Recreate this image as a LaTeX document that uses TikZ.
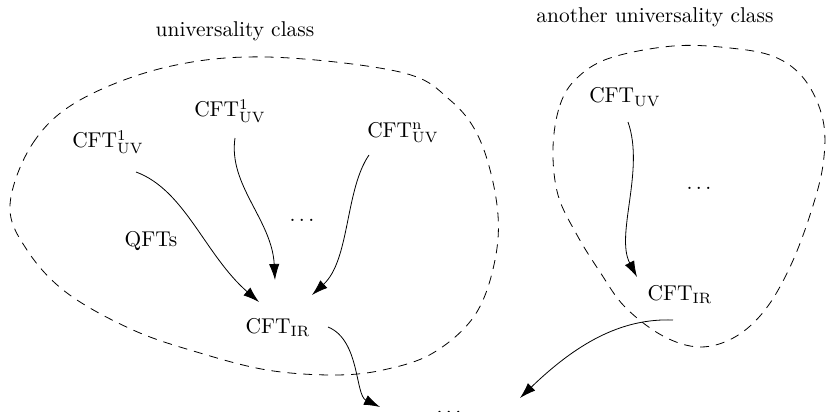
\documentclass[tikz,border=0pt]{standalone}
\usetikzlibrary{arrows.meta}
\begin{document}
\begin{tikzpicture}[x=0.5pt,y=-0.5pt,
  lbl/.style={inner sep=0pt,anchor=base,scale=1.07},
  arr/.style={-{Latex[length=8pt,width=5.2pt]}},
  blob/.style={dash pattern=on 4.5pt off 3.5pt}]
\useasboundingbox (0,0) rectangle (827,412);
% labels
\node[lbl] (uc)  at (235,36) {universality class};
\node[lbl] (auc) at (655,23) {another universality class};
\node[lbl] (uvA) at (108,148) {CFT$^1_{\mathrm{UV}}$};
\node[lbl] (uvB) at (230,117) {CFT$^1_{\mathrm{UV}}$};
\node[lbl] (uvN) at (403,137) {CFT$^{\mathrm{n}}_{\mathrm{UV}}$};
\node[lbl] (qft) at (151,246) {QFTs};
\node[lbl] (dL)  at (302,221) {$\dots$};
\node[lbl] (irL) at (278,333) {CFT$_{\mathrm{IR}}$};
\node[lbl] (uvR) at (625,103) {CFT$_{\mathrm{UV}}$};
\node[lbl] (dR)  at (699,190) {$\dots$};
\node[lbl] (irR) at (680,300) {CFT$_{\mathrm{IR}}$};
\node[lbl] (dB)  at (449,413) {$\dots$};
% blobs
\draw[blob] plot[smooth cycle,tension=0.6] coordinates {
  (10,205) (33,143) (80,100) (167,67) (267,57) (400,72) (450,100)
  (480,140) (497,205) (495,260) (475,315) (433,353) (383,370)
  (333,375) (267,370) (200,353) (133,330) (67,293) (27,250)};
\draw[blob] plot[smooth cycle,tension=0.6] coordinates {
  (553,148) (560,105) (577,78) (610,58) (673,46) (730,48) (775,57)
  (805,80) (823,120) (823,165) (810,215) (790,267) (765,310)
  (735,337) (700,347) (663,336) (625,307) (600,272) (577,235) (558,195)};
% arrows
\draw[arr] ([shift={(28,24)}]uvA.base) .. controls +(49,18) and +(-54,-47) .. ([shift={(-19,-31)}]irL.base);
\draw[arr] ([shift={(5,21)}]uvB.base) .. controls +(-7,47) and +(-3,-60) .. ([shift={(-3,-53)}]irL.base);
\draw[arr] ([shift={(-34,18)}]uvN.base) .. controls +(-24,35) and +(38,-35) .. ([shift={(34,-38)}]irL.base);
\draw[arr] ([shift={(50,-6)}]irL.base) .. controls +(32,13) and +(-25,-12) .. ([shift={(-69,-6)}]dB.base);
\draw[arr] ([shift={(3,19)}]uvR.base) .. controls +(17,48) and +(-22,-42) .. ([shift={(-43,-23)}]irR.base);
\draw[arr] ([shift={(-7,20)}]irR.base) .. controls +(-53,-2) and +(55,-53) .. ([shift={(71,-15)}]dB.base);
\end{tikzpicture}
\end{document}
